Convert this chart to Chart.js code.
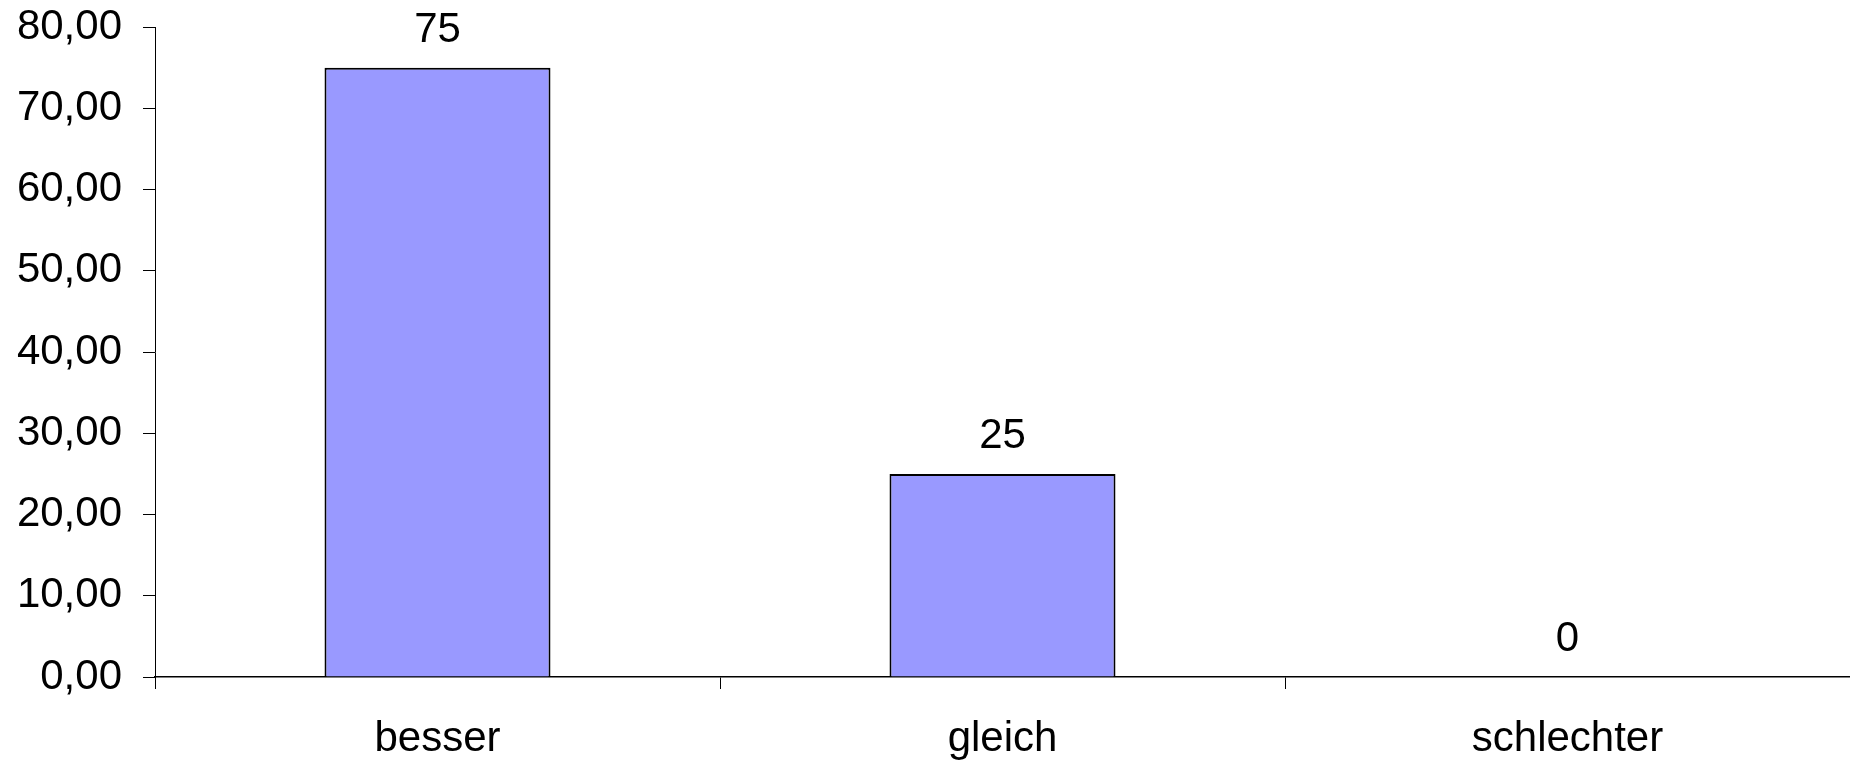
<!DOCTYPE html>
<html>
<head>
<meta charset="utf-8">
<script src="https://cdn.jsdelivr.net/npm/chart.js@4"></script>
<style>
  html, body { margin: 0; padding: 0; background: #fff; }
  #wrap { width: 1850px; height: 763px; position: relative; }
</style>
</head>
<body>
<div id="wrap"><canvas id="c" width="1850" height="763"></canvas></div>
<script>
// Kategorien und Werte (Prozent)
const categories = ['besser', 'gleich', 'schlechter'];
const values = [75, 25, 0];
const yTicks = [0, 10, 20, 30, 40, 50, 60, 70, 80];

const FONT = "'Liberation Sans', Arial, sans-serif";
const AXIS_COLOR = '#000';

// Wertbeschriftung über jedem Balken
const valueLabels = {
  id: 'valueLabels',
  afterDatasetsDraw(chart) {
    const ctx = chart.ctx;
    const meta = chart.getDatasetMeta(0);
    ctx.save();
    ctx.font = '42px ' + FONT;
    ctx.fillStyle = '#000';
    ctx.textAlign = 'center';
    ctx.textBaseline = 'alphabetic';
    meta.data.forEach((bar, i) => {
      ctx.fillText(String(values[i]), bar.x, bar.y - 26);
    });
    ctx.restore();
  }
};

new Chart(document.getElementById('c'), {
  type: 'bar',
  data: {
    labels: categories,
    datasets: [{
      data: values,
      backgroundColor: '#9999FF',
      borderColor: '#000',
      borderWidth: 2,
      barPercentage: 0.4,
      categoryPercentage: 1.0
    }]
  },
  options: {
    responsive: false,
    animation: false,
    events: [],
    layout: { padding: 0 },
    plugins: {
      legend: { display: false },
      tooltip: { enabled: false }
    },
    scales: {
      x: {
        offset: true,
        grid: {
          offset: true,
          drawOnChartArea: false,
          drawTicks: true,
          tickLength: 12,
          color: AXIS_COLOR,
          lineWidth: 1
        },
        border: { display: true, color: AXIS_COLOR, width: 1.5 },
        ticks: {
          color: '#000',
          font: { family: FONT, size: 42 },
          padding: 25,
          maxRotation: 0,
          autoSkip: false
        },
        afterFit(scale) {
          scale.height = 86;
          scale.paddingLeft = 0;
          scale.paddingRight = 0;
        }
      },
      y: {
        min: 0,
        max: 80,
        afterBuildTicks(scale) { scale.ticks = yTicks.map(v => ({ value: v })); },
        grid: {
          drawOnChartArea: false,
          drawTicks: true,
          tickLength: 12,
          color: AXIS_COLOR,
          lineWidth: 1
        },
        border: { display: true, color: AXIS_COLOR, width: 1 },
        ticks: {
          color: '#000',
          font: { family: FONT, size: 42 },
          padding: 21,
          callback: v => Number(v).toFixed(2).replace('.', ',')
        },
        afterFit(scale) {
          scale.width = 155;
          scale.paddingTop = 27;
          scale.paddingBottom = 0;
        }
      }
    }
  },
  plugins: [valueLabels]
});
</script>
</body>
</html>
